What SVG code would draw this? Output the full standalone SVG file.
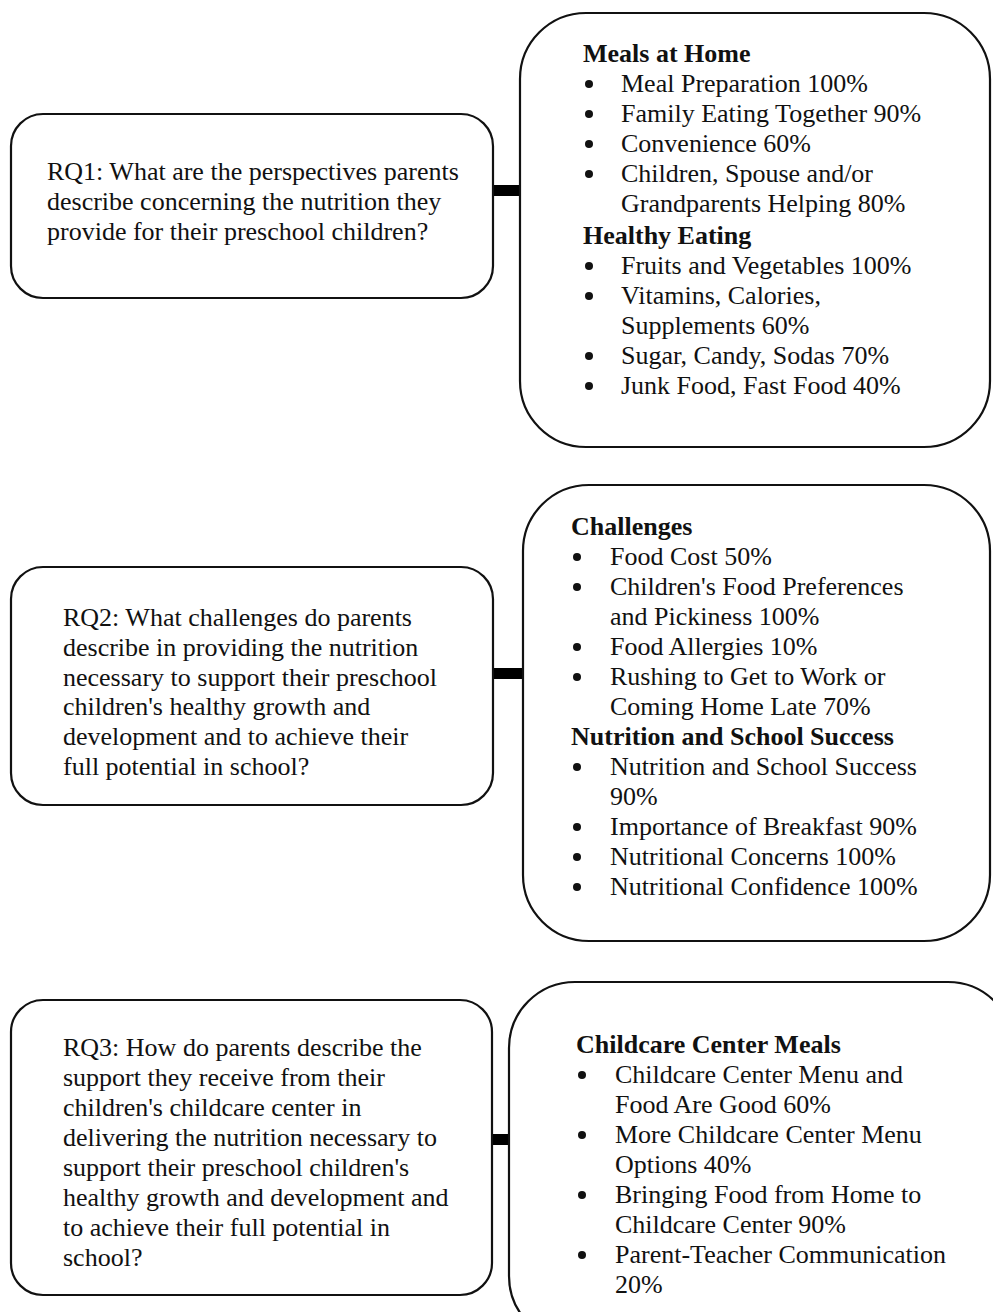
<svg xmlns="http://www.w3.org/2000/svg" width="993" height="1312" viewBox="0 0 993 1312">
<defs>
<circle id="b" r="4" fill="#111"/>
</defs>
<style>
.box{fill:#fff;stroke:#111;stroke-width:2.2}
.t{font-family:"Liberation Serif","Times New Roman",serif;font-size:26px;fill:#111}
.h{font-weight:bold}
.bar{fill:#000}
</style>
<rect width="993" height="1312" fill="#fff"/>
<g id="connectors">
<rect class="bar" x="493" y="185" width="27" height="11"/>
<rect class="bar" x="493" y="668" width="30" height="11"/>
<rect class="bar" x="493" y="1134" width="15" height="11"/>
</g>
<g id="rq1">
<rect class="box" x="11" y="114" width="482" height="184" rx="32" ry="32"/>
<text class="t"><tspan x="47" y="180">RQ1: What are the perspectives parents</tspan><tspan x="47" y="210">describe concerning the nutrition they</tspan><tspan x="47" y="240">provide for their preschool children?</tspan></text>
</g>
<g id="themes1">
<rect class="box" x="520" y="13" width="470" height="434" rx="66" ry="66"/>
<text class="t h" x="583" y="62">Meals at Home</text>
<use href="#b" x="589" y="84"/><use href="#b" x="589" y="114"/><use href="#b" x="589" y="144"/><use href="#b" x="589" y="174"/>
<use href="#b" x="589" y="266"/><use href="#b" x="589" y="296"/><use href="#b" x="589" y="356"/><use href="#b" x="589" y="386"/>
<text class="t"><tspan x="621" y="92">Meal Preparation 100%</tspan>
<tspan x="621" y="122">Family Eating Together 90%</tspan>
<tspan x="621" y="152">Convenience 60%</tspan>
<tspan x="621" y="182">Children, Spouse and/or</tspan>
<tspan x="621" y="212">Grandparents Helping 80%</tspan></text>
<text class="t h" x="583" y="244">Healthy Eating</text>
<text class="t"><tspan x="621" y="274">Fruits and Vegetables 100%</tspan>
<tspan x="621" y="304">Vitamins, Calories,</tspan>
<tspan x="621" y="334">Supplements 60%</tspan>
<tspan x="621" y="364">Sugar, Candy, Sodas 70%</tspan>
<tspan x="621" y="394">Junk Food, Fast Food 40%</tspan></text>
</g>
<g id="rq2">
<rect class="box" x="11" y="567" width="482" height="238" rx="32" ry="32"/>
<text class="t"><tspan x="63" y="626">RQ2: What challenges do parents</tspan><tspan x="63" y="656">describe in providing the nutrition</tspan><tspan x="63" y="686">necessary to support their preschool</tspan><tspan x="63" y="715">children's healthy growth and</tspan><tspan x="63" y="745">development and to achieve their</tspan><tspan x="63" y="775">full potential in school?</tspan></text>
</g>
<g id="themes2">
<rect class="box" x="523" y="485" width="467" height="456" rx="66" ry="66"/>
<text class="t h" x="571" y="535">Challenges</text>
<use href="#b" x="577" y="557"/><use href="#b" x="577" y="587"/><use href="#b" x="577" y="647"/><use href="#b" x="577" y="677"/>
<use href="#b" x="577" y="767"/><use href="#b" x="577" y="827"/><use href="#b" x="577" y="857"/><use href="#b" x="577" y="887"/>
<text class="t"><tspan x="610" y="565">Food Cost 50%</tspan>
<tspan x="610" y="595">Children's Food Preferences</tspan>
<tspan x="610" y="625">and Pickiness 100%</tspan>
<tspan x="610" y="655">Food Allergies 10%</tspan>
<tspan x="610" y="685">Rushing to Get to Work or</tspan>
<tspan x="610" y="715">Coming Home Late 70%</tspan></text>
<text class="t h" x="571" y="745">Nutrition and School Success</text>
<text class="t"><tspan x="610" y="775">Nutrition and School Success</tspan>
<tspan x="610" y="805">90%</tspan>
<tspan x="610" y="835">Importance of Breakfast 90%</tspan>
<tspan x="610" y="865">Nutritional Concerns 100%</tspan>
<tspan x="610" y="895">Nutritional Confidence 100%</tspan></text>
</g>
<g id="rq3">
<rect class="box" x="11" y="1000" width="481" height="295" rx="32" ry="32"/>
<text class="t"><tspan x="63" y="1056">RQ3: How do parents describe the</tspan><tspan x="63" y="1086">support they receive from their</tspan><tspan x="63" y="1116">children's childcare center in</tspan><tspan x="63" y="1146">delivering the nutrition necessary to</tspan><tspan x="63" y="1176">support their preschool children's</tspan><tspan x="63" y="1206">healthy growth and development and</tspan><tspan x="63" y="1236">to achieve their full potential in</tspan><tspan x="63" y="1266">school?</tspan></text>
</g>
<g id="themes3">
<rect class="box" x="509" y="982" width="505" height="360" rx="66" ry="66"/>
<text class="t h" x="576" y="1053">Childcare Center Meals</text>
<use href="#b" x="582" y="1075"/><use href="#b" x="582" y="1135"/><use href="#b" x="582" y="1195"/><use href="#b" x="582" y="1255"/>
<text class="t"><tspan x="615" y="1083">Childcare Center Menu and</tspan>
<tspan x="615" y="1113">Food Are Good 60%</tspan>
<tspan x="615" y="1143">More Childcare Center Menu</tspan>
<tspan x="615" y="1173">Options 40%</tspan>
<tspan x="615" y="1203">Bringing Food from Home to</tspan>
<tspan x="615" y="1233">Childcare Center 90%</tspan>
<tspan x="615" y="1263">Parent-Teacher Communication</tspan>
<tspan x="615" y="1293">20%</tspan></text>
</g>
</svg>
